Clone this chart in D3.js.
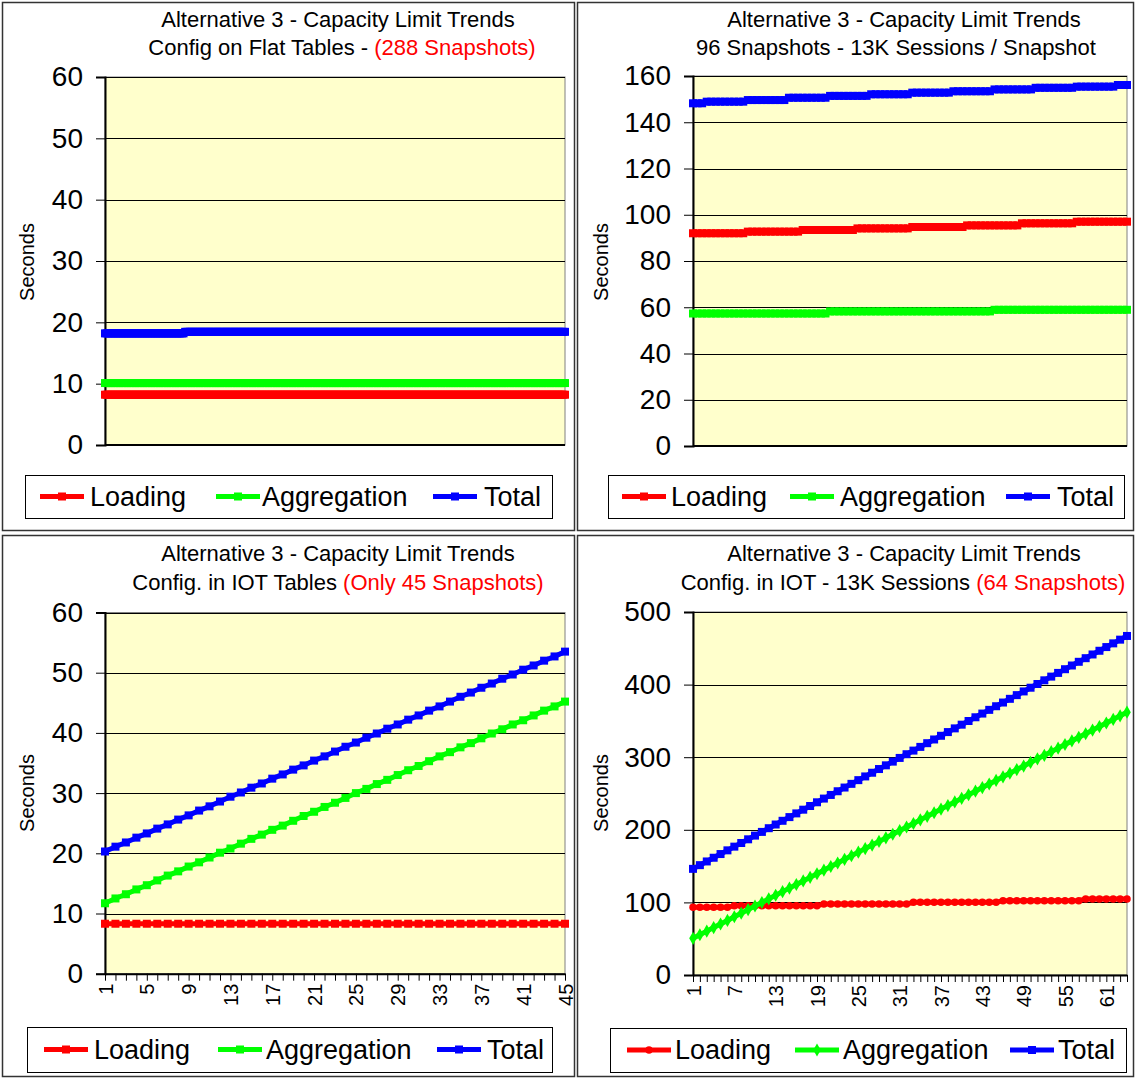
<!DOCTYPE html>
<html>
<head>
<meta charset="utf-8">
<script src="https://cdn.jsdelivr.net/npm/d3@7"></script>
<style>
  html, body { margin: 0; padding: 0; background: #ffffff; }
  svg { display: block; }
</style>
</head>
<body>
<svg id="chart" width="1135" height="1078"></svg>
<script>
// ---------------- DATA ----------------
const seriesNames = ["Loading", "Aggregation", "Total"];
const seriesColors = ["#FF0000", "#00FF00", "#0000FF"];

// Panel 1 : Config on Flat Tables (288 snapshots)
const p1Loading = [
  8.2,8.2,8.2,8.2, 8.2,8.2,8.2,8.2, 8.2,8.2,8.2,8.2,
  8.2,8.2,8.2,8.2, 8.2,8.2,8.2,8.2, 8.2,8.2,8.2,8.2,
  8.2,8.2,8.2,8.2, 8.2,8.2,8.2,8.2, 8.2,8.2,8.2,8.2,
  8.2,8.2,8.2,8.2, 8.2,8.2,8.2,8.2, 8.2,8.2,8.2,8.2,
  8.2,8.2,8.2,8.2, 8.2,8.2,8.2,8.2, 8.2,8.2,8.2,8.2,
  8.2,8.2,8.2,8.2, 8.2,8.2,8.2,8.2, 8.2,8.2,8.2,8.2,
  8.2,8.2,8.2,8.2, 8.2,8.2,8.2,8.2, 8.2,8.2,8.2,8.2,
  8.2,8.2,8.2,8.2, 8.2,8.2,8.2,8.2, 8.2,8.2,8.2,8.2,
  8.2,8.2,8.2,8.2, 8.2,8.2,8.2,8.2, 8.2,8.2,8.2,8.2,
  8.2,8.2,8.2,8.2, 8.2,8.2,8.2,8.2, 8.2,8.2,8.2,8.2,
  8.2,8.2,8.2,8.2, 8.2,8.2,8.2,8.2, 8.2,8.2,8.2,8.2,
  8.2,8.2,8.2,8.2, 8.2,8.2,8.2,8.2, 8.2,8.2,8.2,8.2,
  8.2,8.2,8.2,8.2, 8.2,8.2,8.2,8.2, 8.2,8.2,8.2,8.2,
  8.2,8.2,8.2,8.2, 8.2,8.2,8.2,8.2, 8.2,8.2,8.2,8.2,
  8.2,8.2,8.2,8.2, 8.2,8.2,8.2,8.2, 8.2,8.2,8.2,8.2,
  8.2,8.2,8.2,8.2, 8.2,8.2,8.2,8.2, 8.2,8.2,8.2,8.2,
  8.2,8.2,8.2,8.2, 8.2,8.2,8.2,8.2, 8.2,8.2,8.2,8.2,
  8.2,8.2,8.2,8.2, 8.2,8.2,8.2,8.2, 8.2,8.2,8.2,8.2,
  8.2,8.2,8.2,8.2, 8.2,8.2,8.2,8.2, 8.2,8.2,8.2,8.2,
  8.2,8.2,8.2,8.2, 8.2,8.2,8.2,8.2, 8.2,8.2,8.2,8.2,
  8.2,8.2,8.2,8.2, 8.2,8.2,8.2,8.2, 8.2,8.2,8.2,8.2,
  8.2,8.2,8.2,8.2, 8.2,8.2,8.2,8.2, 8.2,8.2,8.2,8.2,
  8.2,8.2,8.2,8.2, 8.2,8.2,8.2,8.2, 8.2,8.2,8.2,8.2,
  8.2,8.2,8.2,8.2, 8.2,8.2,8.2,8.2, 8.2,8.2,8.2,8.2
];
const p1Aggregation = [
  10.1,10.1,10.1,10.1, 10.1,10.1,10.1,10.1, 10.1,10.1,10.1,10.1,
  10.1,10.1,10.1,10.1, 10.1,10.1,10.1,10.1, 10.1,10.1,10.1,10.1,
  10.1,10.1,10.1,10.1, 10.1,10.1,10.1,10.1, 10.1,10.1,10.1,10.1,
  10.1,10.1,10.1,10.1, 10.1,10.1,10.1,10.1, 10.1,10.1,10.1,10.1,
  10.1,10.1,10.1,10.1, 10.1,10.1,10.1,10.1, 10.1,10.1,10.1,10.1,
  10.1,10.1,10.1,10.1, 10.1,10.1,10.1,10.1, 10.1,10.1,10.1,10.1,
  10.1,10.1,10.1,10.1, 10.1,10.1,10.1,10.1, 10.1,10.1,10.1,10.1,
  10.1,10.1,10.1,10.1, 10.1,10.1,10.1,10.1, 10.1,10.1,10.1,10.1,
  10.1,10.1,10.1,10.1, 10.1,10.1,10.1,10.1, 10.1,10.1,10.1,10.1,
  10.1,10.1,10.1,10.1, 10.1,10.1,10.1,10.1, 10.1,10.1,10.1,10.1,
  10.1,10.1,10.1,10.1, 10.1,10.1,10.1,10.1, 10.1,10.1,10.1,10.1,
  10.1,10.1,10.1,10.1, 10.1,10.1,10.1,10.1, 10.1,10.1,10.1,10.1,
  10.1,10.1,10.1,10.1, 10.1,10.1,10.1,10.1, 10.1,10.1,10.1,10.1,
  10.1,10.1,10.1,10.1, 10.1,10.1,10.1,10.1, 10.1,10.1,10.1,10.1,
  10.1,10.1,10.1,10.1, 10.1,10.1,10.1,10.1, 10.1,10.1,10.1,10.1,
  10.1,10.1,10.1,10.1, 10.1,10.1,10.1,10.1, 10.1,10.1,10.1,10.1,
  10.1,10.1,10.1,10.1, 10.1,10.1,10.1,10.1, 10.1,10.1,10.1,10.1,
  10.1,10.1,10.1,10.1, 10.1,10.1,10.1,10.1, 10.1,10.1,10.1,10.1,
  10.1,10.1,10.1,10.1, 10.1,10.1,10.1,10.1, 10.1,10.1,10.1,10.1,
  10.1,10.1,10.1,10.1, 10.1,10.1,10.1,10.1, 10.1,10.1,10.1,10.1,
  10.1,10.1,10.1,10.1, 10.1,10.1,10.1,10.1, 10.1,10.1,10.1,10.1,
  10.1,10.1,10.1,10.1, 10.1,10.1,10.1,10.1, 10.1,10.1,10.1,10.1,
  10.1,10.1,10.1,10.1, 10.1,10.1,10.1,10.1, 10.1,10.1,10.1,10.1,
  10.1,10.1,10.1,10.1, 10.1,10.1,10.1,10.1, 10.1,10.1,10.1,10.1
];
const p1Total = [
  18.2,18.2,18.2,18.2, 18.2,18.2,18.2,18.2, 18.2,18.2,18.2,18.2,
  18.2,18.2,18.2,18.2, 18.2,18.2,18.2,18.2, 18.2,18.2,18.2,18.2,
  18.2,18.2,18.2,18.2, 18.2,18.2,18.2,18.2, 18.2,18.2,18.2,18.2,
  18.2,18.2,18.2,18.2, 18.2,18.2,18.2,18.2, 18.2,18.2,18.2,18.2,
  18.2,18.2,18.45,18.45, 18.45,18.45,18.45,18.45, 18.45,18.45,18.45,18.45,
  18.45,18.45,18.45,18.45, 18.45,18.45,18.45,18.45, 18.45,18.45,18.45,18.45,
  18.45,18.45,18.45,18.45, 18.45,18.45,18.45,18.45, 18.45,18.45,18.45,18.45,
  18.45,18.45,18.45,18.45, 18.45,18.45,18.45,18.45, 18.45,18.45,18.45,18.45,
  18.45,18.45,18.45,18.45, 18.45,18.45,18.45,18.45, 18.45,18.45,18.45,18.45,
  18.45,18.45,18.45,18.45, 18.45,18.45,18.45,18.45, 18.45,18.45,18.45,18.45,
  18.45,18.45,18.45,18.45, 18.45,18.45,18.45,18.45, 18.45,18.45,18.45,18.45,
  18.45,18.45,18.45,18.45, 18.45,18.45,18.45,18.45, 18.45,18.45,18.45,18.45,
  18.45,18.45,18.45,18.45, 18.45,18.45,18.45,18.45, 18.45,18.45,18.45,18.45,
  18.45,18.45,18.45,18.45, 18.45,18.45,18.45,18.45, 18.45,18.45,18.45,18.45,
  18.45,18.45,18.45,18.45, 18.45,18.45,18.45,18.45, 18.45,18.45,18.45,18.45,
  18.45,18.45,18.45,18.45, 18.45,18.45,18.45,18.45, 18.45,18.45,18.45,18.45,
  18.45,18.45,18.45,18.45, 18.45,18.45,18.45,18.45, 18.45,18.45,18.45,18.45,
  18.45,18.45,18.45,18.45, 18.45,18.45,18.45,18.45, 18.45,18.45,18.45,18.45,
  18.45,18.45,18.45,18.45, 18.45,18.45,18.45,18.45, 18.45,18.45,18.45,18.45,
  18.45,18.45,18.45,18.45, 18.45,18.45,18.45,18.45, 18.45,18.45,18.45,18.45,
  18.45,18.45,18.45,18.45, 18.45,18.45,18.45,18.45, 18.45,18.45,18.45,18.45,
  18.45,18.45,18.45,18.45, 18.45,18.45,18.45,18.45, 18.45,18.45,18.45,18.45,
  18.45,18.45,18.45,18.45, 18.45,18.45,18.45,18.45, 18.45,18.45,18.45,18.45,
  18.45,18.45,18.45,18.45, 18.45,18.45,18.45,18.45, 18.45,18.45,18.45,18.45
];
const p1YTicks = [0, 10, 20, 30, 40, 50, 60];

// Panel 2 : 96 snapshots - 13K sessions / snapshot
const p2Loading = [
  92.0,92.0,92.0,92.0, 92.0,92.0,92.0,92.0, 92.0,92.0,92.0,92.0,
  92.7,92.7,92.7,92.7, 92.7,92.7,92.7,92.7, 92.7,92.7,92.7,92.7,
  93.4,93.4,93.4,93.4, 93.4,93.4,93.4,93.4, 93.4,93.4,93.4,93.4,
  94.1,94.1,94.1,94.1, 94.1,94.1,94.1,94.1, 94.1,94.1,94.1,94.1,
  94.7,94.7,94.7,94.7, 94.7,94.7,94.7,94.7, 94.7,94.7,94.7,94.7,
  95.4,95.4,95.4,95.4, 95.4,95.4,95.4,95.4, 95.4,95.4,95.4,95.4,
  96.3,96.3,96.3,96.3, 96.3,96.3,96.3,96.3, 96.3,96.3,96.3,96.3,
  97.0,97.0,97.0,97.0, 97.0,97.0,97.0,97.0, 97.0,97.0,97.0,97.0
];
const p2Aggregation = [
  57.3,57.3,57.3,57.3, 57.3,57.3,57.3,57.3, 57.3,57.3,57.3,57.3,
  57.3,57.3,57.3,57.3, 57.3,57.3,57.3,57.3, 57.3,57.3,57.3,57.3,
  57.3,57.3,57.3,57.3, 57.3,57.3,58.2,58.2, 58.2,58.2,58.2,58.2,
  58.2,58.2,58.2,58.2, 58.2,58.2,58.2,58.2, 58.2,58.2,58.2,58.2,
  58.2,58.2,58.2,58.2, 58.2,58.2,58.2,58.2, 58.2,58.2,58.2,58.2,
  58.2,58.2,58.2,58.2, 58.2,58.2,58.9,58.9, 58.9,58.9,58.9,58.9,
  58.9,58.9,58.9,58.9, 58.9,58.9,58.9,58.9, 58.9,58.9,58.9,58.9,
  58.9,58.9,58.9,58.9, 58.9,58.9,58.9,58.9, 58.9,58.9,58.9,58.9
];
const p2Total = [
  148.2,148.2,148.2,148.9, 148.9,148.9,148.9,148.9, 148.9,148.9,148.9,148.9,
  149.6,149.6,149.6,149.6, 149.6,149.6,149.6,149.6, 149.6,150.6,150.6,150.6,
  150.6,150.6,150.6,150.6, 150.6,150.6,151.4,151.4, 151.4,151.4,151.4,151.4,
  151.4,151.4,151.4,152.1, 152.1,152.1,152.1,152.1, 152.1,152.1,152.1,152.1,
  152.8,152.8,152.8,152.8, 152.8,152.8,152.8,152.8, 152.8,153.4,153.4,153.4,
  153.4,153.4,153.4,153.4, 153.4,153.4,154.2,154.2, 154.2,154.2,154.2,154.2,
  154.2,154.2,154.2,154.9, 154.9,154.9,154.9,154.9, 154.9,154.9,154.9,154.9,
  155.4,155.4,155.4,155.4, 155.4,155.4,155.4,155.4, 155.4,156.1,156.1,156.1
];
const p2YTicks = [0, 20, 40, 60, 80, 100, 120, 140, 160];

// Panel 3 : Config. in IOT Tables (only 45 snapshots)
const p3Loading = [
  8.3,8.3,8.3,8.3,8.3, 8.3,8.3,8.3,8.3,8.3, 8.3,8.3,8.3,8.3,8.3,
  8.3,8.3,8.3,8.3,8.3, 8.3,8.3,8.3,8.3,8.3, 8.3,8.3,8.3,8.3,8.3,
  8.3,8.3,8.3,8.3,8.3, 8.3,8.3,8.3,8.3,8.3, 8.3,8.3,8.3,8.3,8.3
];
const p3Aggregation = [
  11.7,12.5,13.2,14.0,14.7, 15.5,16.3,17.0,17.8,18.5, 19.3,20.1,20.8,21.6,22.4,
  23.1,23.9,24.6,25.4,26.2, 26.9,27.7,28.4,29.2,30.0, 30.7,31.5,32.2,33.0,33.8,
  34.5,35.3,36.1,36.8,37.6, 38.3,39.1,39.9,40.6,41.4, 42.1,42.9,43.7,44.4,45.2
];
const p3Total = [
  20.3,21.1,21.8,22.6,23.3, 24.1,24.8,25.6,26.3,27.1, 27.8,28.6,29.4,30.1,30.9,
  31.6,32.4,33.1,33.9,34.6, 35.4,36.1,36.9,37.7,38.4, 39.2,39.9,40.7,41.4,42.2,
  42.9,43.7,44.4,45.2,46.0, 46.7,47.5,48.2,49.0,49.7, 50.5,51.2,52.0,52.7,53.5
];
const p3YTicks = [0, 10, 20, 30, 40, 50, 60];
const p3XTickLabels = ["1","5","9","13","17","21","25","29","33","37","41","45"];

// Panel 4 : Config. in IOT - 13K sessions (64 snapshots)
const p4Loading = [
  93.2,93.2,93.2,93.2,93.2,93.2,95.5,95.5,
  95.5,95.5,95.5,95.5,95.5,95.5,95.5,95.5,
  95.5,95.5,95.5,97.8,97.8,97.8,97.8,97.8,
  97.8,97.8,97.8,97.8,97.8,97.8,97.8,97.8,
  100.1,100.1,100.1,100.1,100.1,100.1,100.1,100.1,
  100.1,100.1,100.1,100.1,100.1,102.4,102.4,102.4,
  102.4,102.4,102.4,102.4,102.4,102.4,102.4,102.4,
  102.4,104.7,104.7,104.7,104.7,104.7,104.7,104.7
];
const p4Aggregation = [
  50.5,55.4,60.4,65.3,70.3,75.2,80.2,85.1,
  90.1,95.0,99.9,104.9,109.8,114.8,119.7,124.7,
  129.6,134.5,139.5,144.4,149.4,154.3,159.3,164.2,
  169.2,174.1,179.0,184.0,188.9,193.9,198.8,203.8,
  208.7,213.7,218.6,223.5,228.5,233.4,238.4,243.3,
  248.3,253.2,258.2,263.1,268.0,273.0,277.9,282.9,
  287.8,292.8,297.7,302.6,307.6,312.5,317.5,322.4,
  327.4,332.3,337.3,342.2,347.1,352.1,357.0,362.0
];
const p4Total = [
  146.2,151.3,156.4,161.5,166.6,171.7,176.8,181.8,
  186.9,192.0,197.1,202.2,207.3,212.4,217.5,222.6,
  227.7,232.8,237.9,243.0,248.0,253.1,258.2,263.3,
  268.4,273.5,278.6,283.7,288.8,293.9,299.0,304.1,
  309.1,314.2,319.3,324.4,329.5,334.6,339.7,344.8,
  349.9,355.0,360.1,365.2,370.2,375.3,380.4,385.5,
  390.6,395.7,400.8,405.9,411.0,416.1,421.2,426.3,
  431.4,436.4,441.5,446.6,451.7,456.8,461.9,467.0
];
const p4YTicks = [0, 100, 200, 300, 400, 500];
const p4XTickLabels = ["1","7","13","19","25","31","37","43","49","55","61"];

const titleLine1 = "Alternative 3 - Capacity Limit Trends";
const p1Title2 = [["Config on Flat Tables - ", "#000"], ["(288 Snapshots)", "#FF0000"]];
const p2Title2 = [["96 Snapshots - 13K Sessions / Snapshot", "#000"]];
const p3Title2 = [["Config. in IOT Tables ", "#000"], ["(Only 45 Snapshots)", "#FF0000"]];
const p4Title2 = [["Config. in IOT - 13K Sessions ", "#000"], ["(64 Snapshots)", "#FF0000"]];
const yAxisTitle = "Seconds";

// ---------------- LAYOUT ----------------
const FONT = "'Liberation Sans', Arial, Helvetica, sans-serif";
const svg = d3.select("#chart");

const panels = [
  { frame: {x: 2, y: 2, w: 572, h: 528},
    plot: {l: 105, r: 565, t: 77, b: 445},
    series: [p1Loading, p1Aggregation, p1Total], yTicks: p1YTicks,
    xTicks: null, markers: ["square", "square", "square"],
    title2: p1Title2, titleCx: [338, 342], titleY: [27, 55],
    yLab: {x: 27, y: 262},
    legend: {x: 25, y: 475, w: 527, h: 43, items: [[40, 90], [216, 262], [433, 484]]} },
  { frame: {x: 577, y: 2, w: 556, h: 528},
    plot: {l: 693, r: 1127, t: 76, b: 446},
    series: [p2Loading, p2Aggregation, p2Total], yTicks: p2YTicks,
    xTicks: null, markers: ["square", "square", "square"],
    title2: p2Title2, titleCx: [904, 896], titleY: [27, 55],
    yLab: {x: 601, y: 262},
    legend: {x: 608, y: 475, w: 516, h: 43, items: [[622, 671], [790, 840], [1006, 1057]]} },
  { frame: {x: 2, y: 535, w: 572, h: 541},
    plot: {l: 105, r: 565, t: 612.5, b: 973.7},
    series: [p3Loading, p3Aggregation, p3Total], yTicks: p3YTicks,
    xTicks: p3XTickLabels, markers: ["square", "square", "square"],
    title2: p3Title2, titleCx: [338, 338], titleY: [561, 590],
    yLab: {x: 27, y: 793},
    legend: {x: 27, y: 1027, w: 525, h: 45, items: [[44, 94], [218, 266], [437, 487]]} },
  { frame: {x: 577, y: 535, w: 556, h: 541},
    plot: {l: 693, r: 1127, t: 612, b: 975},
    series: [p4Loading, p4Aggregation, p4Total], yTicks: p4YTicks,
    xTicks: p4XTickLabels, markers: ["circle", "diamond", "square"],
    title2: p4Title2, titleCx: [904, 903], titleY: [561, 590],
    yLab: {x: 601, y: 793},
    legend: {x: 610, y: 1028, w: 516, h: 44, items: [[627, 675], [795, 843], [1010, 1058]]} }
];

const symbolTypes = {square: d3.symbolSquare, circle: d3.symbolCircle, diamond: d3.symbolDiamond};
const symbolSizes = {square: 64, circle: 44, diamond: 50};

function drawPanel(p) {
  const g = svg.append("g");
  // frame
  g.append("rect")
    .attr("x", p.frame.x + 0.5).attr("y", p.frame.y + 0.5)
    .attr("width", p.frame.w).attr("height", p.frame.h)
    .attr("fill", "#fff").attr("stroke", "#333").attr("stroke-width", 1.5);

  const n = p.series[0].length;
  const categories = d3.range(1, n + 1);
  const x = d3.scalePoint().domain(categories).range([p.plot.l, p.plot.r]).padding(0);
  const yMax = d3.max(p.yTicks);
  const y = d3.scaleLinear().domain([0, yMax]).range([p.plot.b, p.plot.t]);

  // plot area
  g.append("rect")
    .attr("x", p.plot.l).attr("y", p.plot.t)
    .attr("width", p.plot.r - p.plot.l).attr("height", p.plot.b - p.plot.t)
    .attr("fill", "#FFFFCC").attr("stroke", "#808080").attr("stroke-width", 1);

  // gridlines
  g.append("g").selectAll("line").data(p.yTicks.filter(v => v > 0)).join("line")
    .attr("x1", p.plot.l).attr("x2", p.plot.r)
    .attr("y1", d => Math.round(y(d)) + 0.5).attr("y2", d => Math.round(y(d)) + 0.5)
    .attr("stroke", "#000").attr("stroke-width", 1);

  // y axis using d3.axisLeft
  const yAxis = d3.axisLeft(y).tickValues(p.yTicks).tickSize(9).tickPadding(13)
    .tickFormat(d3.format("d"));
  const ya = g.append("g").attr("transform", `translate(${p.plot.l},0)`).call(yAxis);
  ya.select(".domain").attr("stroke", "#000").attr("stroke-width", 2);
  ya.selectAll(".tick line").attr("stroke", "#000").attr("stroke-width", 1);
  ya.selectAll(".tick text").attr("font-family", FONT).attr("font-size", 28).attr("fill", "#000");

  // x axis
  const xa = g.append("g").attr("transform", `translate(0,${p.plot.b})`);
  if (p.xTicks) {
    const xAxis = d3.axisBottom(x).tickSize(7).tickSizeOuter(0)
      .tickFormat(d => p.xTicks.includes(String(d)) ? String(d) : "");
    xa.call(xAxis);
    xa.selectAll(".tick text")
      .attr("font-family", FONT).attr("font-size", 20).attr("fill", "#000")
      .attr("transform", "rotate(-90)")
      .attr("text-anchor", "end")
      .attr("x", -10).attr("y", 0).attr("dy", "0.35em");
    xa.selectAll(".tick line").attr("stroke", "#000");
    xa.select(".domain").attr("stroke", "#000").attr("stroke-width", 2);
  } else {
    xa.append("line").attr("x1", p.plot.l).attr("x2", p.plot.r)
      .attr("stroke", "#000").attr("stroke-width", 2);
  }

  // series
  p.series.forEach((vals, si) => {
    const data = vals.map((v, i) => [categories[i], v]);
    const line = d3.line().x(d => x(d[0])).y(d => y(d[1]));
    g.append("path").datum(data)
      .attr("d", line)
      .attr("fill", "none")
      .attr("stroke", seriesColors[si])
      .attr("stroke-width", 5)
      .attr("stroke-linejoin", "round");
    const m = p.markers[si];
    const sym = d3.symbol().type(symbolTypes[m]).size(symbolSizes[m]);
    g.append("g").selectAll("path").data(data).join("path")
      .attr("transform", d => `translate(${x(d[0])},${y(d[1])})`)
      .attr("d", sym)
      .attr("fill", seriesColors[si]);
  });

  // titles
  g.append("text")
    .attr("x", p.titleCx[0]).attr("y", p.titleY[0])
    .attr("text-anchor", "middle")
    .attr("font-family", FONT).attr("font-size", 22).attr("fill", "#000")
    .text(titleLine1);
  const t2 = g.append("text")
    .attr("x", p.titleCx[1]).attr("y", p.titleY[1])
    .attr("text-anchor", "middle")
    .attr("font-family", FONT).attr("font-size", 22);
  p.title2.forEach(([txt, col]) => {
    t2.append("tspan").attr("fill", col).text(txt);
  });

  // y axis title
  g.append("text")
    .attr("transform", `translate(${p.yLab.x},${p.yLab.y}) rotate(-90)`)
    .attr("text-anchor", "middle").attr("dy", "0.35em")
    .attr("font-family", FONT).attr("font-size", 20).attr("fill", "#000")
    .text(yAxisTitle);

  // legend
  const L = p.legend;
  g.append("rect")
    .attr("x", L.x + 0.5).attr("y", L.y + 0.5).attr("width", L.w).attr("height", L.h)
    .attr("fill", "#fff").attr("stroke", "#000").attr("stroke-width", 1);
  const cy = L.y + L.h / 2;
  L.items.forEach(([lx, tx], si) => {
    g.append("line")
      .attr("x1", lx).attr("x2", lx + 44).attr("y1", cy).attr("y2", cy)
      .attr("stroke", seriesColors[si]).attr("stroke-width", 5);
    const m = p.markers[si];
    g.append("path")
      .attr("transform", `translate(${lx + 22},${cy})`)
      .attr("d", d3.symbol().type(symbolTypes[m]).size(symbolSizes[m])())
      .attr("fill", seriesColors[si]);
    g.append("text")
      .attr("x", tx).attr("y", cy).attr("dy", "0.35em")
      .attr("font-family", FONT).attr("font-size", 27).attr("fill", "#000")
      .text(seriesNames[si]);
  });
}

panels.forEach(drawPanel);
</script>
</body>
</html>
